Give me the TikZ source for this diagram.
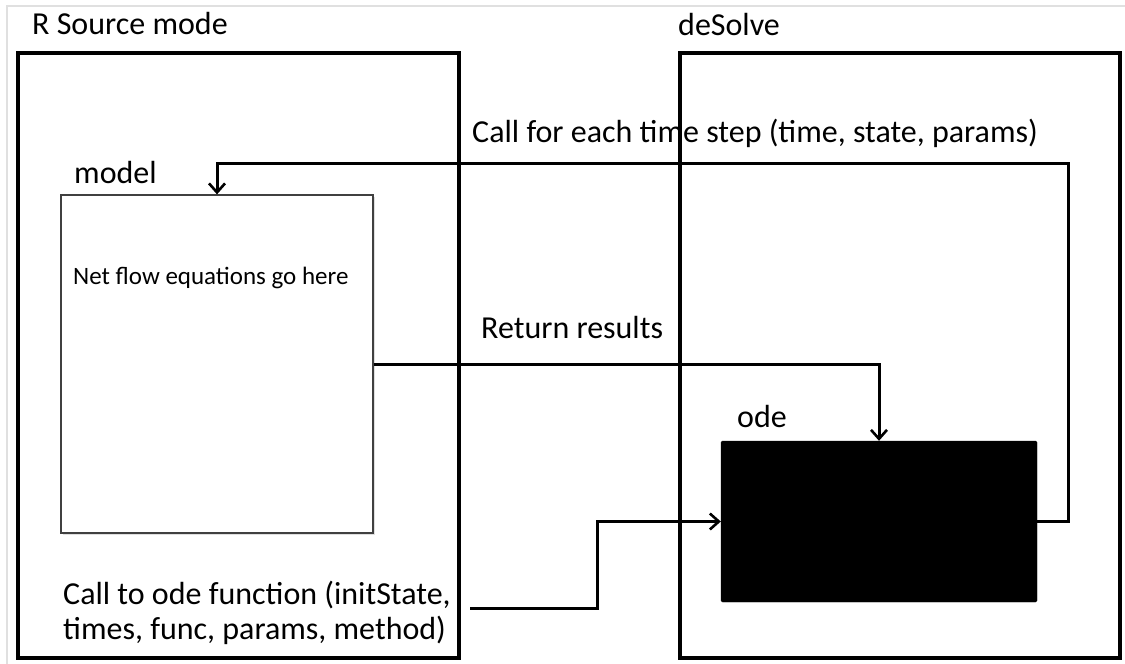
\documentclass[tikz,border=0pt]{standalone}
\usepackage{fontspec}
\setmainfont{Carlito}
\usetikzlibrary{arrows.meta,shadows}
\tikzset{
  bigbox/.style={draw=black, line width=4.6pt, fill=none, inner sep=0pt},
  modelbox/.style={draw=black!75, line width=1.3pt, fill=white, inner sep=0pt,
    drop shadow={opacity=0.25, shadow xshift=2pt, shadow yshift=-2pt}},
  odebox/.style={draw=black, fill=black, rounded corners=1.5pt, inner sep=0pt},
  lbl/.style={inner sep=0pt, font=\fontsize{32}{35}\selectfont, text=black},
  smalllbl/.style={inner sep=0pt, font=\fontsize{25}{28}\selectfont, text=black},
  conn/.style={draw=black, line width=3pt, -{Straight Barb[length=9pt,width=16pt,line width=2.6pt]}},
  frameline/.style={draw=black!12, line width=1.2pt}
}
\begin{document}
\begin{tikzpicture}[x=1pt,y=-1pt]
\useasboundingbox (0,0) rectangle (1125,664);
\fill[white] (0,0) rectangle (1125,664);
\coordinate (fa) at (7,664);
\coordinate (fb) at (7,6);
\coordinate (fc) at (1125,6);
\draw[frameline] (fa) -- (fb) -- (fc);

% containers
\node[bigbox, minimum width=441pt, minimum height=605pt] (rsrc) at (238.5,355.5) {};
\node[bigbox, minimum width=440pt, minimum height=605pt] (desolve) at (900,355.5) {};

% inner boxes
\node[modelbox, minimum width=312pt, minimum height=338pt] (model) at (217,364) {};
\node[odebox, minimum width=316pt, minimum height=161pt] (ode) at (879,521.5) {};

% labels
\node[lbl, anchor=base west] (lrsrc) at (32,34) {R Source mode};
\node[lbl, anchor=base west] (ldesolve) at (678,35) {deSolve};
\node[lbl, anchor=base west] (lmodel) at (74,183) {model};
\node[lbl, anchor=base west] (lode) at (737,427) {ode};
\node[smalllbl, anchor=base west] (lnet) at (73,284) {Net flow equations go here};
\node[lbl, anchor=base east] (lcall) at (1038,142) {Call for each time step (time, state, params)};
\node[lbl, anchor=base west] (lret) at (481,338) {Return results};
\node[lbl, anchor=base west, align=left] (lcallode) at (63,639) {Call to ode function (initState,\\times, func, params, method)};

% connectors
\coordinate (fbr) at (1068,163);
\draw[conn] (ode.east) -| (fbr) -| (model.north);
\draw[conn] (model.east) -| (ode.north);
\coordinate (cs) at (470,608);
\coordinate (cb) at (597,608);
\draw[conn] (cs) -- (cb) |- (ode.west);
\end{tikzpicture}
\end{document}
